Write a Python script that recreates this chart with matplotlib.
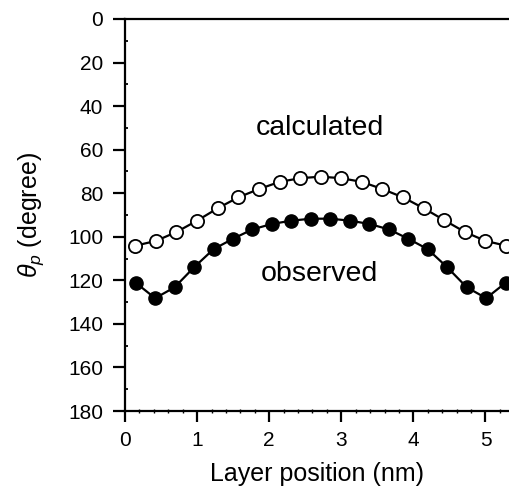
import matplotlib
matplotlib.use("Agg")
import matplotlib.pyplot as plt
from matplotlib.ticker import MultipleLocator
import numpy as np

plt.rcParams['font.family'] = ['Liberation Sans', 'DejaVu Sans']
plt.rcParams['mathtext.fontset'] = 'custom'
plt.rcParams['mathtext.it'] = 'Liberation Sans:italic'
plt.rcParams['mathtext.rm'] = 'Liberation Sans'

# Calculated (open circles)
calc_x = [0.143, 0.429, 0.714, 1.000, 1.286, 1.571, 1.857, 2.143, 2.429, 2.714,
          3.000, 3.286, 3.571, 3.857, 4.143, 4.429, 4.714, 5.000, 5.286]
calc_y = [104.1, 101.9, 97.8, 92.6, 86.9, 81.9, 78.1, 74.8, 73.1, 72.4,
          73.1, 74.8, 78.1, 81.9, 86.9, 92.4, 97.8, 101.9, 104.1]

# Observed (filled circles)
obs_x = [0.148, 0.418, 0.688, 0.958, 1.228, 1.498, 1.768, 2.039, 2.309, 2.579,
         2.849, 3.119, 3.389, 3.659, 3.929, 4.199, 4.469, 4.740, 5.010, 5.280]
obs_y = [121.1, 128.2, 123.2, 114.0, 105.7, 100.9, 96.6, 94.1, 92.6, 91.7,
         91.7, 92.6, 94.1, 96.6, 100.9, 105.7, 114.0, 123.2, 128.2, 121.1]

xticks = [0, 1, 2, 3, 4, 5]
yticks = [0, 20, 40, 60, 80, 100, 120, 140, 160, 180]

fig = plt.figure(figsize=(5.10, 4.91), dpi=100)
ax = fig.add_axes([125/510, 1 - 411/491, 1 - 125/510, (411 - 19)/491])

ax.plot(calc_x, calc_y, '-o', color='black', lw=1.6, ms=9.5,
        mfc='white', mec='black', mew=1.3, zorder=3, clip_on=False)
ax.plot(obs_x, obs_y, '-o', color='black', lw=1.6, ms=9.5,
        mfc='black', mec='black', mew=1.0, zorder=3, clip_on=False)

ax.set_xlim(0, 5.34)
ax.set_ylim(180, 0)
ax.set_xticks(xticks)
ax.set_yticks(yticks)
ax.xaxis.set_minor_locator(MultipleLocator(0.2))
ax.yaxis.set_minor_locator(MultipleLocator(10))

for s in ['left', 'top', 'bottom']:
    ax.spines[s].set_linewidth(1.6)
ax.spines['right'].set_visible(False)

ax.tick_params(axis='both', which='major', direction='out', width=1.6,
               labelsize=15, top=False, right=False)
ax.tick_params(axis='y', which='major', length=8.6, pad=7)
ax.tick_params(axis='x', which='major', length=7.7, pad=7)
ax.tick_params(axis='x', which='minor', direction='inout', length=2.2, width=1,
               top=False)
ax.tick_params(axis='y', which='minor', direction='in', length=2.2, width=1.3,
               right=False)

ax.set_xlabel('Layer position (nm)', fontsize=18, labelpad=8)
ax.set_ylabel(r'$\theta_{p}$ (degree)', fontsize=18, labelpad=16)

ax.text(2.7, 50, 'calculated', fontsize=20.5, ha='center', va='center')
ax.text(2.7, 117, 'observed', fontsize=20.5, ha='center', va='center')

fig.savefig('out.png', dpi=100)
